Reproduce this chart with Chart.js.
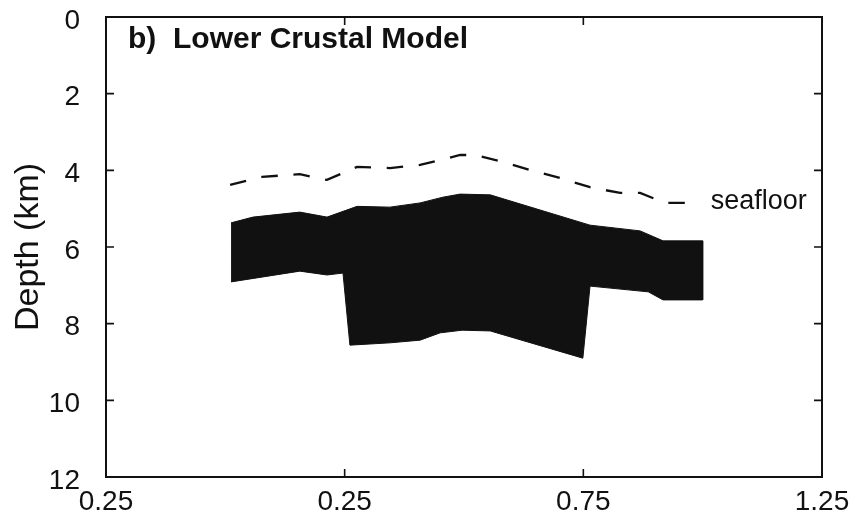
<!DOCTYPE html>
<html><head><meta charset="utf-8">
<script src="https://cdn.jsdelivr.net/npm/chart.js@4/dist/chart.umd.min.js"></script>
<style>html,body{margin:0;padding:0;background:#fff}#wrap{width:856px;height:523px}</style>
</head><body><div id="wrap"><canvas id="c" width="856" height="523"></canvas></div>
<script>
// ---- data ----
const xTickValues = [-0.25, 0.25, 0.75, 1.25];
const xTickLabels = ['0.25', '0.25', '0.75', '1.25'];
const yTickValues = [0, 2, 4, 6, 8, 10, 12];
const yTickLabels = ['0', '2', '4', '6', '8', '10', '12'];

// lower crustal body outline (x, depth km), traced clockwise
const bodyX =     [0.012, 0.058, 0.156, 0.213, 0.276, 0.345, 0.408, 0.456, 0.492, 0.555, 0.764, 0.869, 0.917, 1.000,
                   1.000, 0.917, 0.886, 0.764, 0.749, 0.555, 0.496, 0.450, 0.408, 0.345, 0.261, 0.2465, 0.213, 0.156, 0.012];
const bodyDepth = [5.37, 5.22, 5.09, 5.22, 4.94, 4.96, 4.85, 4.70, 4.62, 4.64, 5.43, 5.58, 5.84, 5.84,
                   7.38, 7.38, 7.17, 7.02, 8.90, 8.19, 8.17, 8.24, 8.43, 8.50, 8.56, 6.68, 6.73, 6.63, 6.91];

// seafloor (dashed)
const seafloorX =     [0.010, 0.077, 0.156, 0.213, 0.276, 0.345, 0.408, 0.492, 0.523, 0.575, 0.638, 0.701, 0.764, 0.827, 0.869, 0.911, 0.927, 0.963];
const seafloorDepth = [4.38, 4.17, 4.10, 4.25, 3.91, 3.94, 3.86, 3.60, 3.60, 3.76, 3.99, 4.20, 4.44, 4.59, 4.59, 4.80, 4.85, 4.85];

const titleText = 'b)  Lower Crustal Model';
const yAxisTitle = 'Depth (km)';
const seafloorLabel = 'seafloor';
const seafloorLabelX = 1.017;
const seafloorLabelDepth = 5.0;

// ---- chart ----
const FONT = '"Liberation Sans", Arial, Helvetica, sans-serif';
const INK = '#111111';
const toPts = (xs, ys) => xs.map((x, i) => ({ x: x, y: ys[i] }));

const framePlugin = {
  id: 'frame',
  afterDatasetsDraw(chart) {
    const { ctx, chartArea: a, scales } = chart;
    ctx.save();
    ctx.strokeStyle = INK;
    ctx.lineWidth = 2;
    ctx.strokeRect(a.left, a.top, a.right - a.left, a.bottom - a.top);
    ctx.lineWidth = 1.6;
    const tl = 8;
    ctx.beginPath();
    yTickValues.slice(1, -1).forEach(v => {
      const py = scales.y.getPixelForValue(v);
      ctx.moveTo(a.left, py); ctx.lineTo(a.left + tl, py);
      ctx.moveTo(a.right, py); ctx.lineTo(a.right - tl, py);
    });
    xTickValues.slice(1, -1).forEach(v => {
      const px = scales.x.getPixelForValue(v);
      ctx.moveTo(px, a.bottom); ctx.lineTo(px, a.bottom - tl);
      ctx.moveTo(px, a.top); ctx.lineTo(px, a.top + tl);
    });
    ctx.stroke();
    // panel title
    ctx.fillStyle = INK;
    ctx.font = 'bold 30px ' + FONT;
    ctx.textAlign = 'left';
    ctx.textBaseline = 'alphabetic';
    ctx.fillText(titleText, a.left + 22, a.top + 31);
    // seafloor label
    ctx.font = '27px ' + FONT;
    ctx.fillText(seafloorLabel, scales.x.getPixelForValue(seafloorLabelX), scales.y.getPixelForValue(seafloorLabelDepth));
    ctx.restore();
  }
};

new Chart(document.getElementById('c'), {
  type: 'scatter',
  data: {
    datasets: [
      {
        label: 'Lower crustal body',
        data: toPts(bodyX, bodyDepth),
        showLine: true,
        fill: 'shape',
        backgroundColor: INK,
        borderColor: INK,
        borderWidth: 1,
        pointRadius: 0,
        tension: 0
      },
      {
        label: 'seafloor',
        data: toPts(seafloorX, seafloorDepth),
        showLine: true,
        fill: false,
        borderColor: INK,
        borderWidth: 2.3,
        borderDash: [16.5, 15.7],
        pointRadius: 0,
        tension: 0
      }
    ]
  },
  options: {
    responsive: false,
    animation: false,
    layout: { padding: { top: 17, right: 34, left: 0, bottom: 0 } },
    plugins: { legend: { display: false }, tooltip: { enabled: false } },
    scales: {
      x: {
        type: 'linear',
        min: -0.25, max: 1.25,
        afterBuildTicks: s => { s.ticks = xTickValues.map(v => ({ value: v })); },
        afterFit: s => { s.height = 46; s.paddingLeft = 0; s.paddingRight = 0; },
        ticks: {
          callback: (v, i) => xTickLabels[i],
          font: { family: FONT, size: 28 },
          color: INK, padding: 8, maxRotation: 0, autoSkip: false
        },
        grid: { display: false, drawTicks: false },
        border: { display: false }
      },
      y: {
        type: 'linear',
        reverse: true,
        min: 0, max: 12,
        afterBuildTicks: s => { s.ticks = yTickValues.map(v => ({ value: v })); },
        afterFit: s => { s.width = 106; s.paddingTop = 0; s.paddingBottom = 0; },
        ticks: {
          callback: (v, i) => yTickLabels[i],
          font: { family: FONT, size: 28 },
          color: INK, padding: 26, labelOffset: 4, autoSkip: false
        },
        title: {
          display: true, text: yAxisTitle, color: INK,
          font: { family: FONT, size: 34 },
          padding: { top: 8, bottom: 0 }
        },
        grid: { display: false, drawTicks: false },
        border: { display: false }
      }
    }
  },
  plugins: [framePlugin]
});
</script>
</body></html>
